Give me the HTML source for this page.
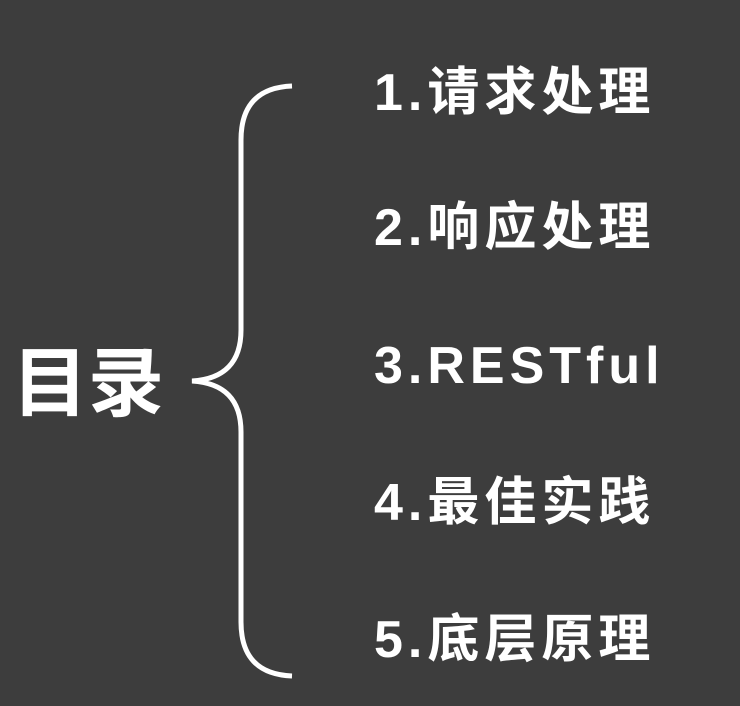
<!DOCTYPE html>
<html><head><meta charset="utf-8"><style>
body{margin:0;width:740px;height:706px;background:#3d3d3d;position:relative;overflow:hidden;font-family:"Liberation Sans","Noto Sans CJK SC",sans-serif;color:#fff;font-weight:bold}
.t{position:absolute;left:374px;font-size:52px;letter-spacing:5px;line-height:60px;white-space:nowrap}
.m{position:absolute;left:12px;top:340px;font-size:76px;line-height:90px;letter-spacing:0px}
</style></head><body>
<svg width="740" height="706" style="position:absolute;left:0;top:0">
<path d="M292 86 Q241 88 241 140 L241 330 Q241 378 192 381 Q241 384 241 432 L241 622 Q241 674 292 676" fill="none" stroke="#fff" stroke-width="5"/>
</svg>
<div class="m">目录</div>
<div class="t" style="top:63px">1.请求处理</div>
<div class="t" style="top:198px">2.响应处理</div>
<div class="t" style="top:336px">3.RESTful</div>
<div class="t" style="top:473px">4.最佳实践</div>
<div class="t" style="top:610px">5.底层原理</div>
</body></html>
